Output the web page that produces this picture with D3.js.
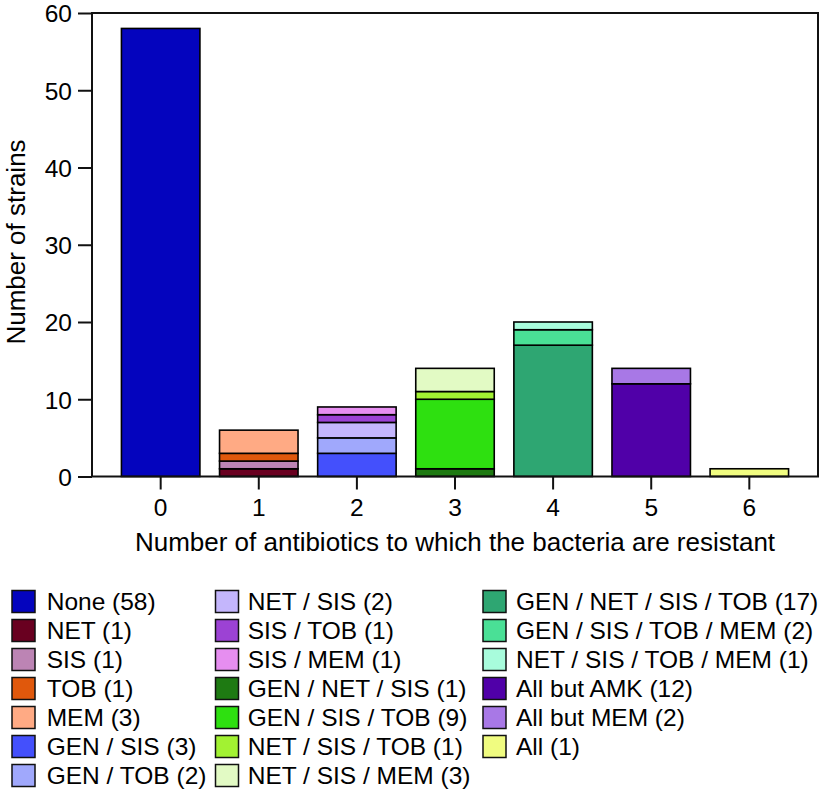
<!DOCTYPE html>
<html>
<head>
<meta charset="utf-8">
<script src="https://cdn.jsdelivr.net/npm/d3@7"></script>
<style>
  html, body { margin: 0; padding: 0; background: #fff; }
  svg { display: block; }
  text { font-family: "Liberation Sans", Arial, Helvetica, sans-serif; fill: #000; }
</style>
</head>
<body>
<svg id="chart" width="822" height="794"></svg>
<script>
// ---- data ----
const categories = ["0", "1", "2", "3", "4", "5", "6"];
const groupLabels = [
  "None", "NET", "SIS", "TOB", "MEM",
  "GEN / SIS", "GEN / TOB", "NET / SIS", "SIS / TOB", "SIS / MEM",
  "GEN / NET / SIS", "GEN / SIS / TOB", "NET / SIS / TOB", "NET / SIS / MEM",
  "GEN / NET / SIS / TOB", "GEN / SIS / TOB / MEM", "NET / SIS / TOB / MEM",
  "All but AMK", "All but MEM", "All"
];
const groupCounts = [58, 1, 1, 1, 3, 3, 2, 2, 1, 1, 1, 9, 1, 3, 17, 2, 1, 12, 2, 1];
const groupCategory = ["0", "1", "1", "1", "1", "2", "2", "2", "2", "2", "3", "3", "3", "3", "4", "4", "4", "5", "5", "6"];
const palette = [
  "#0404BE", "#690020", "#BC84B4", "#E0580C", "#FFAA84",
  "#4450FC", "#A0A8FC", "#C4B6FC", "#9C42D4", "#E68EF0",
  "#1E7A12", "#2EE010", "#A2F232", "#E2FAC4",
  "#2EA672", "#4AE096", "#A8FCDC",
  "#5000A8", "#A878E6", "#F0FC80"
];
const yTicks = [0, 10, 20, 30, 40, 50, 60];
const xTitle = "Number of antibiotics to which the bacteria are resistant";
const yTitle = "Number of strains";

// ---- layout ----
const svg = d3.select("#chart");
const plot = { left: 92, right: 818, top: 13, bottom: 476.5 };

const x = d3.scaleBand().domain(categories)
  .range([plot.left, plot.right]).paddingInner(0.2).paddingOuter(0.3);
const y = d3.scaleLinear().domain([0, 60]).range([plot.bottom, plot.top]);

// stacked segments
const running = {};
const segments = groupLabels.map((label, i) => {
  const c = groupCategory[i];
  const y0 = running[c] || 0;
  const y1 = y0 + groupCounts[i];
  running[c] = y1;
  return { label, cat: c, y0, y1, color: palette[i], count: groupCounts[i] };
});

svg.append("g").selectAll("rect").data(segments).join("rect")
  .attr("x", d => x(d.cat))
  .attr("width", x.bandwidth())
  .attr("y", d => y(d.y1))
  .attr("height", d => y(d.y0) - y(d.y1))
  .attr("fill", d => d.color)
  .attr("stroke", "#000")
  .attr("stroke-width", 1.6);

// frame
svg.append("rect")
  .attr("x", plot.left).attr("y", plot.top)
  .attr("width", plot.right - plot.left).attr("height", plot.bottom - plot.top)
  .attr("fill", "none").attr("stroke", "#111").attr("stroke-width", 2);

// y axis
const yAxis = svg.append("g")
  .attr("transform", `translate(${plot.left},0)`)
  .call(d3.axisLeft(y).tickValues(yTicks).tickSize(14).tickPadding(6).tickFormat(d3.format("d")));
yAxis.select(".domain").remove();
yAxis.selectAll(".tick line").attr("stroke", "#111").attr("stroke-width", 2);
yAxis.selectAll(".tick text").attr("font-size", 24.5).attr("font-family", "Liberation Sans, Arial, sans-serif").attr("dy", "0.36em");

// x axis
const xAxis = svg.append("g")
  .attr("transform", `translate(0,${plot.bottom})`)
  .call(d3.axisBottom(x).tickSize(13).tickPadding(9));
xAxis.select(".domain").remove();
xAxis.selectAll(".tick line").attr("stroke", "#111").attr("stroke-width", 2);
xAxis.selectAll(".tick text").attr("font-size", 24.5).attr("font-family", "Liberation Sans, Arial, sans-serif");

// titles
svg.append("text")
  .attr("x", (plot.left + plot.right) / 2 + 0)
  .attr("y", 551)
  .attr("text-anchor", "middle")
  .attr("font-size", 26)
  .text(xTitle);

svg.append("text")
  .attr("transform", `translate(25,242) rotate(-90)`)
  .attr("text-anchor", "middle")
  .attr("font-size", 26)
  .text(yTitle);

// legend
const colSwatchX = [12, 215.5, 483];
const colTextX = [46.7, 247.7, 516];
const rowsPerCol = 7;
const rowStep = 29;
const firstRowCenter = 601.5;
const legend = svg.append("g");
const items = legend.selectAll("g").data(segments).join("g")
  .attr("transform", (d, i) => {
    const col = Math.floor(i / rowsPerCol);
    const row = i % rowsPerCol;
    return `translate(${colSwatchX[col]},${firstRowCenter + row * rowStep})`;
  });
items.append("rect")
  .attr("y", -11)
  .attr("width", 23).attr("height", 22)
  .attr("fill", d => d.color)
  .attr("stroke", "#111").attr("stroke-width", 1.5);
items.append("text")
  .attr("x", (d, i) => colTextX[Math.floor(i / rowsPerCol)] - colSwatchX[Math.floor(i / rowsPerCol)])
  .attr("y", 8.7)
  .attr("font-size", 24.5)
  .text(d => `${d.label} (${d.count})`);
</script>
</body>
</html>
